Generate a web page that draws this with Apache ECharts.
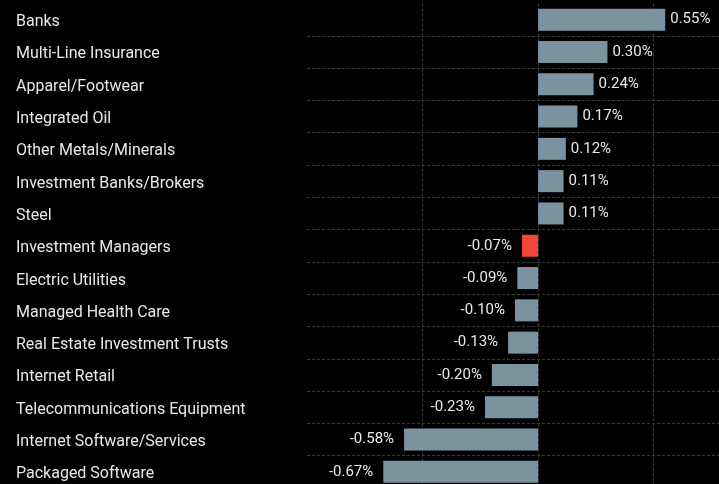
<!DOCTYPE html>
<html>
<head>
<meta charset="utf-8">
<style>
html,body{margin:0;padding:0;background:#000;}
#chart{width:719px;height:484px;}
</style>
<script src="https://cdn.jsdelivr.net/npm/echarts@6/dist/echarts.min.js"></script>
</head>
<body>
<div id="chart"></div>
<script>
const categories = [
  "Banks","Multi-Line Insurance","Apparel/Footwear","Integrated Oil","Other Metals/Minerals",
  "Investment Banks/Brokers","Steel","Investment Managers","Electric Utilities","Managed Health Care",
  "Real Estate Investment Trusts","Internet Retail","Telecommunications Equipment",
  "Internet Software/Services","Packaged Software"
];
const values = [0.55,0.30,0.24,0.17,0.12,0.11,0.11,-0.07,-0.09,-0.10,-0.13,-0.20,-0.23,-0.58,-0.67];
const highlightCategory = "Investment Managers";
const xTicks = {min:-1, max:0.8, interval:0.5};

const BAR = '#7b939e', RED = '#f2453a', TXT = '#e8e8e8', GRID = '#3a3a3a';
const FONT = 'Roboto';

const chart = echarts.init(document.getElementById('chart'), null, {renderer:'canvas'});
const data = values.map((v,i)=>({
  value: v,
  itemStyle: {color: categories[i]===highlightCategory ? RED : BAR},
  label: {position: v>=0 ? 'right' : 'left', distance: v>=0 ? 5 : 10}
}));
chart.setOption({
  backgroundColor:'#000',
  animation:false,
  grid:{left:307, width:416, top:3.5, height:484.5, containLabel:false, outerBoundsMode:'none'},
  xAxis:{
    type:'value', min:xTicks.min, max:xTicks.max, interval:xTicks.interval,
    axisLabel:{show:false}, axisLine:{show:false}, axisTick:{show:false},
    splitLine:{show:true, showMinLine:false, showMaxLine:false, lineStyle:{color:GRID, type:[3,2], width:1}}
  },
  yAxis:{
    type:'category', inverse:true, data:categories,
    axisLine:{show:false}, axisTick:{show:false},
    axisLabel:{align:'left', margin:291,
      formatter: v => '{c|' + v + '}',
      rich:{c:{color:TXT, fontFamily:FONT, fontSize:16, padding:[5,0,0,0]}}},
    splitLine:{show:true, showMinLine:false, showMaxLine:false, lineStyle:{color:GRID, type:[3,2], width:1}}
  },
  series:[{
    type:'bar', data:data, barWidth:22,
    label:{show:true, color:TXT, fontFamily:FONT, fontSize:15,
      formatter:p=>p.value.toFixed(2)+'%'}
  }]
});
</script>
</body>
</html>
